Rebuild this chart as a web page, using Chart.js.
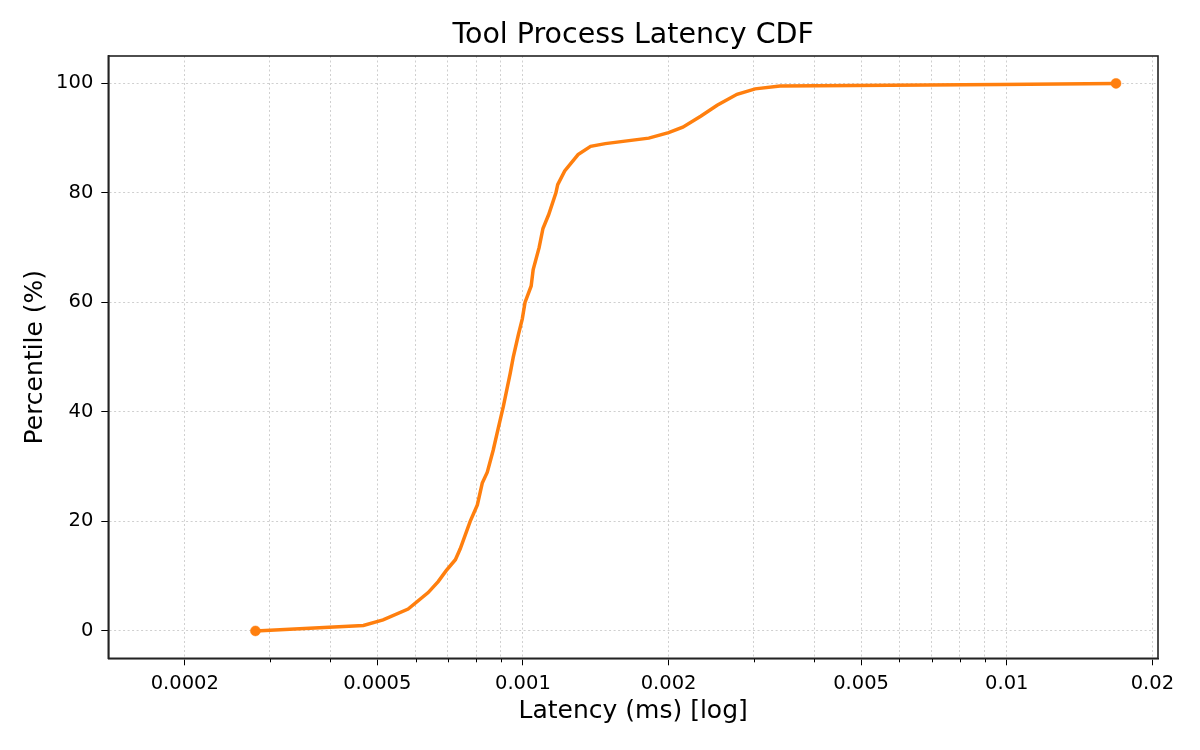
<!DOCTYPE html>
<html>
<head>
<meta charset="utf-8">
<title>Tool Process Latency CDF</title>
<script src="https://cdn.jsdelivr.net/npm/chart.js@4.4.1/dist/chart.umd.min.js"></script>
<style>
  html, body { margin: 0; padding: 0; background: #fff; }
  #wrap { width: 1200px; height: 750px; }
</style>
</head>
<body>
<div id="wrap"><canvas id="cdf" width="1200" height="750"></canvas></div>
<script>
// latency in ms and the matching percentile
const latencyMs = [
  0.000280, 0.000468, 0.000514, 0.000579, 0.000637, 0.000668, 0.000694, 0.000725,
  0.000742, 0.000778, 0.000805, 0.000824, 0.000844, 0.000868, 0.000889, 0.000911,
  0.000941, 0.000955, 0.000978, 0.000997, 0.00101, 0.00104, 0.00105, 0.00108,
  0.00110, 0.00113, 0.00117, 0.00118, 0.00122, 0.00130, 0.00138, 0.00148,
  0.00182, 0.00200, 0.00214, 0.00233, 0.00252, 0.00277, 0.00302, 0.00340,
  0.00969, 0.01682
]
const percentile = [
  0, 1, 2, 4, 7, 9, 11, 13,
  15, 20, 23, 27, 29, 33, 37, 41,
  47, 50, 54, 57, 60, 63, 66, 70,
  73.5, 76, 80, 81.5, 84, 87, 88.5, 89,
  90, 91, 92, 94, 96, 98, 99, 99.5,
  99.8, 100
]

const xMajorTicks = [0.0002, 0.0005, 0.001, 0.002, 0.005, 0.01, 0.02]
const xMinorTicks = [0.0003, 0.0004, 0.0006, 0.0007, 0.0008, 0.0009,
  0.003, 0.004, 0.006, 0.007, 0.008, 0.009]
const yTicks = [0, 20, 40, 60, 80, 100]

const orange = '#ff7f0e'
const gridColor = '#cfcfcf'
const fontFamily = '"DejaVu Sans", "Liberation Sans", sans-serif'

// box around the plot + short minor tick marks (matplotlib style)
const frame = {
  id: 'frame',
  afterDraw (chart) {
    const { ctx, chartArea } = chart
    const xs = chart.scales.x
    ctx.save()
    ctx.strokeStyle = '#000'
    ctx.lineWidth = 1
    xMinorTicks.forEach(v => {
      const px = Math.round(xs.getPixelForValue(v)) + 0.5
      ctx.beginPath()
      ctx.moveTo(px, chartArea.bottom)
      ctx.lineTo(px, chartArea.bottom + 4)
      ctx.stroke()
    })
    ctx.lineWidth = 1.6
    ctx.strokeStyle = '#222'
    ctx.strokeRect(chartArea.left, chartArea.top, chartArea.right - chartArea.left, chartArea.bottom - chartArea.top)
    ctx.restore()
  }
}

const points = latencyMs.map((v, i) => ({ x: v, y: percentile[i] }))
const lastIdx = points.length - 1

const ctx = document.getElementById('cdf').getContext('2d')
new Chart(ctx, {
  type: 'line',
  data: {
    datasets: [{
      label: 'CDF',
      data: points,
      borderColor: orange,
      backgroundColor: orange,
      borderWidth: 3.5,
      tension: 0,
      pointRadius: c => (c.dataIndex === 0 || c.dataIndex === lastIdx) ? 5 : 0,
      pointBorderWidth: 0.5,
      pointHoverRadius: 0
    }]
  },
  options: {
    responsive: false,
    animation: false,
    devicePixelRatio: 1,
    layout: { padding: { left: 0, right: 42, top: 0, bottom: 0 } },
    plugins: {
      legend: { display: false },
      tooltip: { enabled: false },
      title: {
        display: true,
        fullSize: false,
        text: 'Tool Process Latency CDF',
        color: '#000',
        font: { family: fontFamily, size: 28.5, weight: 'normal' },
        padding: { top: 18, bottom: 3.8 }
      }
    },
    scales: {
      x: {
        type: 'logarithmic',
        min: 0.000139,
        max: 0.02054,
        afterBuildTicks: scale => {
          scale.ticks = xMajorTicks.concat(xMinorTicks).sort((a, b) => a - b).map(v => ({ value: v }))
        },
        afterFit: scale => { scale.height = 91.7 },
        ticks: {
          autoSkip: false,
          maxRotation: 0,
          color: '#000',
          padding: 7,
          font: { family: fontFamily, size: 19.5 },
          callback: v => xMajorTicks.includes(v) ? String(v) : ''
        },
        grid: {
          color: gridColor,
          lineWidth: 1,
          tickLength: 7,
          tickColor: c => xMajorTicks.includes(c.tick.value) ? '#000' : 'rgba(0,0,0,0)'
        },
        border: { display: true, color: '#222', width: 1.6, dash: [2, 2.5] },
        title: {
          display: true,
          text: 'Latency (ms) [log]',
          color: '#000',
          font: { family: fontFamily, size: 25 },
          padding: { top: 0, bottom: 23.5 }
        }
      },
      y: {
        type: 'linear',
        min: -5,
        max: 105,
        afterBuildTicks: scale => {
          scale.ticks = yTicks.map(v => ({ value: v }))
        },
        afterFit: scale => { scale.width = 108.3 },
        ticks: {
          color: '#000',
          padding: 8,
          font: { family: fontFamily, size: 19.5 }
        },
        grid: {
          color: gridColor,
          lineWidth: 1,
          tickLength: 7,
          tickColor: '#000'
        },
        border: { display: true, color: '#222', width: 1.6, dash: [2, 2.5] },
        title: {
          display: true,
          text: 'Percentile (%)',
          color: '#000',
          font: { family: fontFamily, size: 25 },
          padding: { top: 20, bottom: 0 }
        }
      }
    }
  },
  plugins: [frame]
})
</script>
</body>
</html>
